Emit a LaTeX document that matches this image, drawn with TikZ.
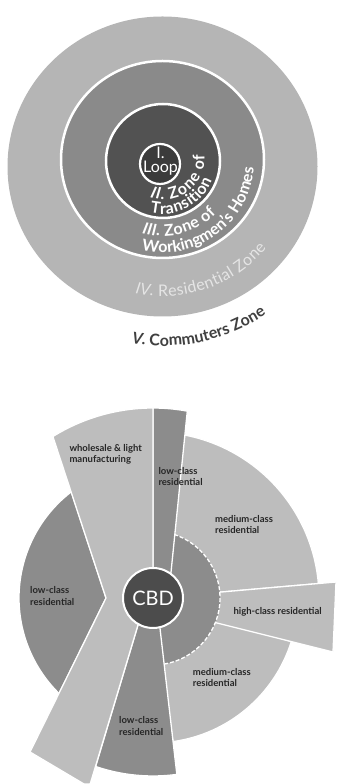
\documentclass[tikz,border=0pt]{standalone}
\usepackage{fontspec}
\setmainfont{Lato}
\usetikzlibrary{decorations.text,calc}
\definecolor{zIV}{gray}{0.71}
\definecolor{zIII}{gray}{0.54}
\definecolor{zII}{gray}{0.32}
\definecolor{zI}{gray}{0.23}
\definecolor{ivtext}{gray}{0.9}
\definecolor{vtext}{gray}{0.25}
\definecolor{lightg}{gray}{0.74}
\definecolor{midg}{gray}{0.55}
\definecolor{cbdc}{gray}{0.3}
\definecolor{labeltext}{gray}{0.15}
\newcommand\wIt{\fontsize{16}{16}\selectfont\bfseries\color{white}\itshape}
\newcommand\wUp{\fontsize{16}{16}\selectfont\bfseries\color{white}\upshape}
\newcommand\gIt{\fontsize{16}{16}\selectfont\color{ivtext}\itshape}
\newcommand\gUp{\fontsize{16}{16}\selectfont\color{ivtext}\upshape}
\newcommand\dIt{\fontsize{16}{16}\selectfont\bfseries\color{vtext}\itshape}
\newcommand\dUp{\fontsize{16}{16}\selectfont\bfseries\color{vtext}\upshape}
\tikzset{
  sector/.style={draw=white, line width=1.3pt, line join=round},
  ring/.style={draw=white, line width=2.5pt},
  lbl/.style={font=\fontsize{9.5}{11.5}\selectfont\bfseries, text=labeltext, align=left, anchor=west, inner sep=0pt},
  arctext/.style={decorate, decoration={text along path, text align=fit to path, text={#1}}}
}
\begin{document}
\begin{tikzpicture}[x=1pt,y=1pt]
\useasboundingbox (0,0) rectangle (337,784);
% ---------------- concentric zone model ----------------
\coordinate (C) at (162.5,623);
\coordinate (C1) at (164,625);
\fill[zIV] (162.5,617.5) ellipse [x radius=155, y radius=150];
\filldraw[fill=zIII, ring] (162.5,624.5) ellipse [x radius=101.5, y radius=98.5];
\filldraw[fill=zII, ring] (163,623) circle [radius=57];
\filldraw[fill=zI, ring, line width=2.2pt] (160,620) circle [radius=20];
\node[text=white, align=center, font=\fontsize{16}{14}\selectfont, inner sep=0pt] (loop) at (160.5,623) {I.\\Loop};
\path[arctext={|\wIt|II. |\wUp|Zone of}] ($(C1)+(-110.2:40.5)$) arc[start angle=-110.2, end angle=5.7, radius=40.5];
\path[arctext={|\wUp|Transition}] ($(C)+(-103.6:53)$) arc[start angle=-103.6, end angle=-21, radius=53];
\path[arctext={|\wIt|III. |\wUp|Zone of}] ($(C)+(-106:75)$) arc[start angle=-106, end angle=-44.2, radius=75];
\path[arctext={|\wUp|Workingmen’s Homes}] ($(C)+(-103.1:91.6)$) arc[start angle=-103.1, end angle=-4.4, radius=91.6];
\path[arctext={|\gIt|IV. |\gUp|Residential Zone}] ($(C)+(-101.7:135.5)$) arc[start angle=-101.7, end angle=-40, radius=135.5];
\path[arctext={|\dIt|V. |\dUp|Commuters Zone}] ($(C)+(-99.6:185)$) arc[start angle=-99.6, end angle=-55.9, radius=185];
% ---------------- sector model ----------------
\coordinate (H) at (153,186);
% medium-class sectors
\filldraw[fill=lightg, sector] (H) -- ($(H)+(5:166)$) arc[start angle=5, end angle=79, radius=166] -- cycle;
\filldraw[fill=lightg, sector] (H) -- ($(H)+(-82.1:145)$) arc[start angle=-82.1, end angle=-17.5, radius=145] -- cycle;
% high-class
\filldraw[fill=lightg, sector] (H) -- (336,202) -- (333,132) -- (217,161) -- (153,177) -- cycle;
% inner disc
\fill[midg] (H) -- ($(H)+(-80.5:67)$) arc[start angle=-80.5, end angle=71.1, radius=67] -- cycle;
\draw[white, line width=1.3pt, dash pattern=on 4pt off 2pt] ($(H)+(-80.5:67)$) arc[start angle=-80.5, end angle=71.1, radius=67];
% low-class upper
\filldraw[fill=midg, sector] (153,186) -- (153,376) arc[start angle=90, end angle=79.6, radius=190] -- (168.4,186) -- cycle;
% low-class lower
\filldraw[fill=midg, sector] (146.1,186) -- ($(H)+(-108.8:178)$) arc[start angle=-108.8, end angle=-82.3, radius=178] -- (156.5,186) -- cycle;
% low-class left
\filldraw[fill=midg, sector] (106,186) -- ($(H)+(127.6:134)$) arc[start angle=127.6, end angle=225.5, radius=134] -- cycle;
% wholesale
\filldraw[fill=lightg, sector] ($(H)+(121.8:190)$) arc[start angle=121.8, end angle=90, radius=190] -- (153,186) -- (146.1,186) -- (90.2,0) -- (84,0) -- (30,32) -- (106,186) -- cycle;
% CBD
\node[circle, fill=cbdc, draw=white, line width=2pt, minimum size=60pt, inner sep=0pt, text=white, font=\fontsize{20}{20}\selectfont] (cbd) at (H) {CBD};
% labels
\node[lbl] (wh) at (69.3,329.5) {wholesale \& light\\manufacturing};
\node[lbl] (lc1) at (158.3,307.3) {low-class\\residential};
\node[lbl] (mc1) at (215,259.3) {medium-class\\residential};
\node[lbl] (lc2) at (30,188.2) {low-class\\residential};
\node[lbl] (hc) at (233.3,171.7) {high-class residential};
\node[lbl] (mc2) at (192.7,106.5) {medium-class\\residential};
\node[lbl] (lc3) at (119,58) {low-class\\residential};
\end{tikzpicture}
\end{document}
